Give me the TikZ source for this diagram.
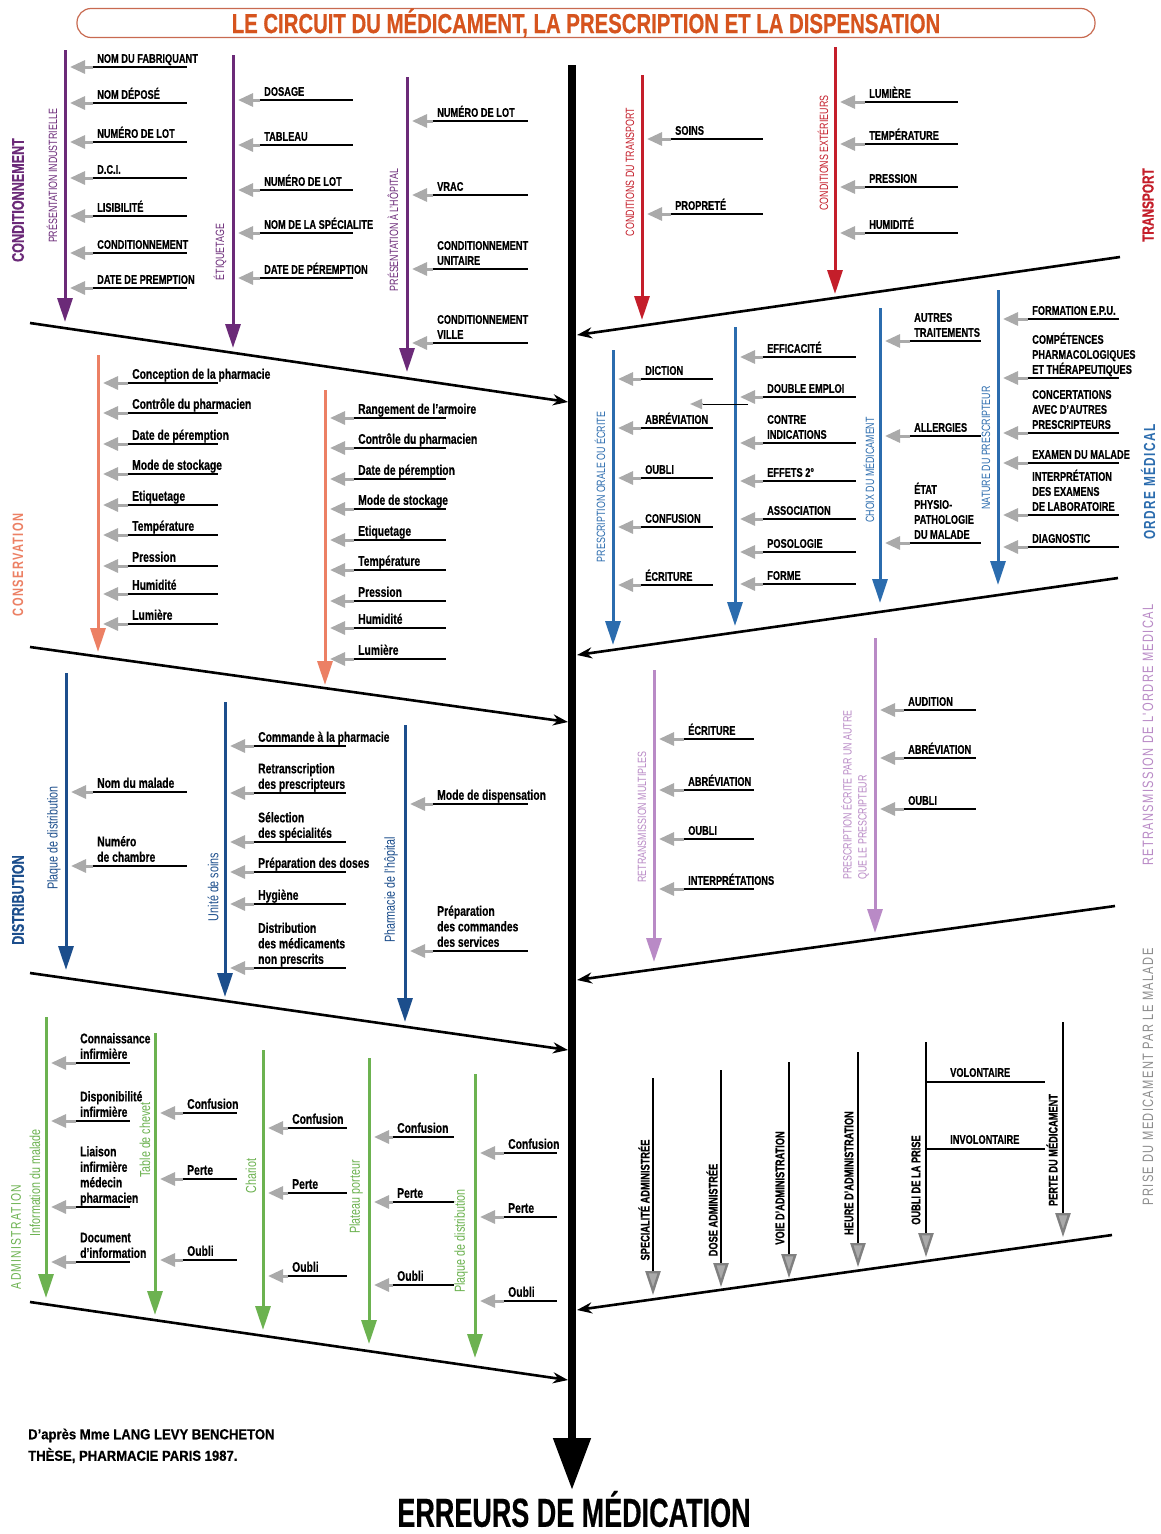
\documentclass[tikz,border=0pt]{standalone}
\usepackage{fontspec}
\setmainfont{Liberation Sans}[FakeStretch=0.74,BoldFeatures={FakeBold=0.5}]
\newfontfamily\spacedfont{Liberation Sans}[FakeStretch=0.74,LetterSpace=9]
\usetikzlibrary{arrows.meta}
\definecolor{cpurple}{RGB}{107,42,120}
\definecolor{csalmon}{RGB}{236,128,100}
\definecolor{cdblue}{RGB}{28,78,140}
\definecolor{cblue}{RGB}{43,108,174}
\definecolor{cgreen}{RGB}{108,178,80}
\definecolor{cred}{RGB}{196,30,42}
\definecolor{clpurple}{RGB}{185,138,198}
\definecolor{cgrayl}{RGB}{140,140,140}
\definecolor{ctitle}{RGB}{214,84,30}
\definecolor{ctitleframe}{RGB}{200,106,80}
\definecolor{ctip}{RGB}{170,170,170}
% item: name, branch x, line start x, line end x, line y, text style, text
\newcommand\fbi[7]{%
  \coordinate (#1s) at (#3,#5);
  \coordinate (#1e) at (#4,#5);
  \coordinate (#1b) at (#2+5,#5);
  \draw[itemline] (#1s) -- (#1e);
  \draw[graytip] (#1s) -- (#1b);
  \node[#6, anchor=south west] (#1) at (#3+4,#5-4) {#7};
}
% coloured branch: name, x, top y, tip y, colour
\newcommand\fbb[5]{%
  \coordinate (#1t) at (#2,#3);
  \coordinate (#1h) at (#2,#4);
  \draw[branchln, #5] (#1t) -- (#1h);
}
% black branch with grey head
\newcommand\fbp[4]{%
  \coordinate (#1t) at (#2,#3);
  \coordinate (#1h) at (#2,#4);
  \draw[prisebr] (#1t) -- (#1h);
}
\begin{document}
\begin{tikzpicture}[x=1pt,y=-1pt,
  itemline/.style={line width=2.2pt, black},
  graytip/.style={line width=3pt, ctip, -{Triangle[length=15pt,width=13pt]}},
  branchln/.style={line width=3pt, -{Triangle[length=24pt,width=15pt]}},
  prisebr/.style={line width=2.4pt, black, -{Triangle[length=24pt,width=15pt,fill=ctip,color=gray]}},
  ribln/.style={line width=2.6pt, black, -{Stealth[length=15pt,width=11pt]}},
  uptext/.style={font=\bfseries\fontsize{12.5}{15}\selectfont, inner sep=0pt, align=left, text depth=0pt},
  lotext/.style={font=\bfseries\fontsize{14}{15.5}\selectfont, inner sep=0pt, align=left, text depth=0pt},
  subup/.style={font=\fontsize{12}{14}\selectfont, rotate=90, inner sep=0pt},
  sublo/.style={font=\fontsize{14.5}{16}\selectfont, rotate=90, inner sep=0pt},
  catbold/.style={font=\bfseries\fontsize{17}{17}\selectfont, rotate=90, inner sep=0pt},
  catreg/.style={font=\spacedfont\fontsize{15}{15}\selectfont, rotate=90, inner sep=0pt},
  prlabel/.style={font=\bfseries\fontsize{12.5}{15}\selectfont, rotate=90, inner sep=0pt},
]
\useasboundingbox (0,0) rectangle (1160,1534);
\fill[white] (0,0) rectangle (1160,1534);

% ---------- title ----------
\node[draw=ctitleframe, line width=1.2pt, rounded corners=14pt, minimum width=1018pt, minimum height=29pt, inner sep=0pt] (title) at (586,23)
  {\scalebox{1.1}[1.1]{\bfseries\fontsize{25}{25}\selectfont\color{ctitle}LE CIRCUIT DU MÉDICAMENT, LA PRESCRIPTION ET LA DISPENSATION}};

% ---------- spine ----------
\coordinate (sptop) at (572,65);
\coordinate (spbot) at (572,1490);
\draw[line width=8pt, -{Triangle[length=52pt,width=36pt]}] (sptop) -- (spbot);
\node[inner sep=0pt] (err) at (574,1509) {\scalebox{0.9}[1]{\bfseries\fontsize{40.5}{40.5}\selectfont ERREURS DE MÉDICATION}};
\node[anchor=north west, inner sep=0pt, align=left] (src) at (28,1424)
  {\scalebox{1.22}[1]{\bfseries\fontsize{14.5}{21.5}\selectfont\begin{tabular}{@{}l@{}}D'après Mme LANG LEVY BENCHETON\\THÈSE, PHARMACIE PARIS 1987.\end{tabular}}};

% ---------- ribs ----------
\coordinate (rl1a) at (30,323);   \coordinate (rl1b) at (568,402);
\coordinate (rl2a) at (30,647);   \coordinate (rl2b) at (568,722);
\coordinate (rl3a) at (30,973);   \coordinate (rl3b) at (568,1050);
\coordinate (rl4a) at (30,1302);  \coordinate (rl4b) at (568,1380);
\coordinate (rr1a) at (1120,257); \coordinate (rr1b) at (577,335);
\coordinate (rr2a) at (1118,578); \coordinate (rr2b) at (577,655);
\coordinate (rr3a) at (1115,906); \coordinate (rr3b) at (577,980);
\coordinate (rr4a) at (1112,1235);\coordinate (rr4b) at (577,1310);
\foreach \r in {rl1,rl2,rl3,rl4,rr1,rr2,rr3,rr4} \draw[ribln] (\r a) -- (\r b);

% ---------- category labels ----------
\node[catbold, text=cpurple] (kCond) at (18,200) {CONDITIONNEMENT};
\node[catreg, text=csalmon, font=\spacedfont\bfseries\fontsize{15}{15}\selectfont] (kCons) at (18,565) {CONSERVATION};
\node[catbold, text=cdblue] (kDist) at (18,900) {DISTRIBUTION};
\node[catreg, text=cgreen, font=\spacedfont\fontsize{14}{14}\selectfont] (kAdm) at (16,1237) {ADMINISTRATION};
\node[catbold, text=cred, font=\bfseries\fontsize{16}{16}\selectfont] (kTr) at (1148,205) {TRANSPORT};
\node[catreg, text=cblue, font=\spacedfont\bfseries\fontsize{16}{16}\selectfont] (kOM) at (1148,482) {ORDRE MÉDICAL};
\node[catreg, text=clpurple] (kRet) at (1148,735) {RETRANSMISSION DE L'ORDRE MEDICAL};
\node[catreg, text=cgrayl] (kPr) at (1148,1077) {PRISE DU MEDICAMENT PAR LE MALADE};

% ========== CONDITIONNEMENT ==========
\fbb{bA}{65}{50}{322}{cpurple}
\node[subup, text=cpurple] (lA) at (52,176) {PRÉSENTATION INDUSTRIELLE};
\fbi{a1}{65}{93}{187}{67}{uptext}{NOM DU FABRIQUANT}
\fbi{a2}{65}{93}{187}{103}{uptext}{NOM DÉPOSÉ}
\fbi{a3}{65}{93}{187}{142}{uptext}{NUMÉRO DE LOT}
\fbi{a4}{65}{93}{187}{178}{uptext}{D.C.I.}
\fbi{a5}{65}{93}{187}{216}{uptext}{LISIBILITÉ}
\fbi{a6}{65}{93}{187}{253}{uptext}{CONDITIONNEMENT}
\fbi{a7}{65}{93}{187}{288}{uptext}{DATE DE PREMPTION}

\fbb{bB}{233}{55}{348}{cpurple}
\node[subup, text=cpurple] (lB) at (220,252) {ÉTIQUETAGE};
\fbi{b1}{233}{260}{353}{100}{uptext}{DOSAGE}
\fbi{b2}{233}{260}{353}{145}{uptext}{TABLEAU}
\fbi{b3}{233}{260}{353}{190}{uptext}{NUMÉRO DE LOT}
\fbi{b4}{233}{260}{353}{233}{uptext}{NOM DE LA SPÉCIALITE}
\fbi{b5}{233}{260}{353}{278}{uptext}{DATE DE PÉREMPTION}

\fbb{bC}{407}{77}{372}{cpurple}
\node[subup, text=cpurple] (lC) at (393,230) {PRÉSENTATION À L'HÔPITAL};
\fbi{c1}{407}{433}{528}{121}{uptext}{NUMÉRO DE LOT}
\fbi{c2}{407}{433}{528}{195}{uptext}{VRAC}
\fbi{c3}{407}{433}{528}{269}{uptext}{CONDITIONNEMENT\\UNITAIRE}
\fbi{c4}{407}{433}{528}{343}{uptext}{CONDITIONNEMENT\\VILLE}

% ========== CONSERVATION ==========
\fbb{bD}{98}{355}{652}{csalmon}
\fbi{d1}{98}{128}{218}{383}{lotext}{Conception de la pharmacie}
\fbi{d2}{98}{128}{218}{413}{lotext}{Contrôle du pharmacien}
\fbi{d3}{98}{128}{218}{444}{lotext}{Date de péremption}
\fbi{d4}{98}{128}{218}{474}{lotext}{Mode de stockage}
\fbi{d5}{98}{128}{218}{505}{lotext}{Etiquetage}
\fbi{d6}{98}{128}{218}{535}{lotext}{Température}
\fbi{d7}{98}{128}{218}{566}{lotext}{Pression}
\fbi{d8}{98}{128}{218}{594}{lotext}{Humidité}
\fbi{d9}{98}{128}{218}{624}{lotext}{Lumière}

\fbb{bE}{325}{390}{685}{csalmon}
\fbi{e1}{325}{354}{446}{418}{lotext}{Rangement de l'armoire}
\fbi{e2}{325}{354}{446}{448}{lotext}{Contrôle du pharmacien}
\fbi{e3}{325}{354}{446}{479}{lotext}{Date de péremption}
\fbi{e4}{325}{354}{446}{509}{lotext}{Mode de stockage}
\fbi{e5}{325}{354}{446}{540}{lotext}{Etiquetage}
\fbi{e6}{325}{354}{446}{570}{lotext}{Température}
\fbi{e7}{325}{354}{446}{601}{lotext}{Pression}
\fbi{e8}{325}{354}{446}{628}{lotext}{Humidité}
\fbi{e9}{325}{354}{446}{659}{lotext}{Lumière}

% ========== DISTRIBUTION ==========
\fbb{bF}{66}{673}{970}{cdblue}
\node[sublo, text=cdblue] (lF) at (54,838) {Plaque de distribution};
\fbi{f1}{66}{93}{187}{792}{lotext}{Nom du malade}
\fbi{f2}{66}{93}{187}{866}{lotext}{Numéro\\de chambre}

\fbb{bG}{225}{702}{997}{cdblue}
\node[sublo, text=cdblue] (lG) at (213,887) {Unité de soins};
\fbi{g1}{225}{254}{346}{746}{lotext}{Commande à la pharmacie}
\fbi{g2}{225}{254}{346}{793}{lotext}{Retranscription\\des prescripteurs}
\fbi{g3}{225}{254}{346}{842}{lotext}{Sélection\\des spécialités}
\fbi{g4}{225}{254}{346}{872}{lotext}{Préparation des doses}
\fbi{g5}{225}{254}{346}{904}{lotext}{Hygiène}
\fbi{g6}{225}{254}{346}{968}{lotext}{Distribution\\des médicaments\\non prescrits}

\fbb{bH}{405}{725}{1022}{cdblue}
\node[sublo, text=cdblue] (lH) at (391,890) {Pharmacie de l'hôpital};
\fbi{h1}{405}{433}{528}{804}{lotext}{Mode de dispensation}
\fbi{h2}{405}{433}{528}{951}{lotext}{Préparation\\des commandes\\des services}

% ========== ADMINISTRATION ==========
\fbb{bI}{46}{1017}{1298}{cgreen}
\node[sublo, text=cgreen] (lI) at (35,1183) {Information du malade};
\fbi{i1}{46}{76}{130}{1063}{lotext}{Connaissance\\infirmière}
\fbi{i2}{46}{76}{130}{1121}{lotext}{Disponibilité\\infirmière}
\fbi{i3}{46}{76}{130}{1207}{lotext}{Liaison\\infirmière\\médecin\\pharmacien}
\fbi{i4}{46}{76}{130}{1262}{lotext}{Document\\d'information}

\fbb{bJ}{155}{1033}{1315}{cgreen}
\node[sublo, text=cgreen] (lJ) at (145,1140) {Table de chevet};
\fbi{j1}{155}{183}{237}{1113}{lotext}{Confusion}
\fbi{j2}{155}{183}{237}{1179}{lotext}{Perte}
\fbi{j3}{155}{183}{237}{1260}{lotext}{Oubli}

\fbb{bK}{263}{1050}{1330}{cgreen}
\node[sublo, text=cgreen] (lK) at (251,1176) {Chariot};
\fbi{k1}{263}{288}{347}{1128}{lotext}{Confusion}
\fbi{k2}{263}{288}{347}{1193}{lotext}{Perte}
\fbi{k3}{263}{288}{347}{1276}{lotext}{Oubli}

\fbb{bL}{369}{1058}{1344}{cgreen}
\node[sublo, text=cgreen] (lL) at (356,1197) {Plateau porteur};
\fbi{l1}{369}{393}{454}{1137}{lotext}{Confusion}
\fbi{l2}{369}{393}{454}{1202}{lotext}{Perte}
\fbi{l3}{369}{393}{454}{1285}{lotext}{Oubli}

\fbb{bM}{475}{1074}{1358}{cgreen}
\node[sublo, text=cgreen] (lM) at (461,1241) {Plaque de distribution};
\fbi{m1}{475}{504}{557}{1153}{lotext}{Confusion}
\fbi{m2}{475}{504}{557}{1217}{lotext}{Perte}
\fbi{m3}{475}{504}{557}{1301}{lotext}{Oubli}

% ========== TRANSPORT ==========
\fbb{bN}{642}{75}{320}{cred}
\node[subup, text=cred] (lN) at (630,172) {CONDITIONS DU TRANSPORT};
\fbi{n1}{642}{671}{763}{139}{uptext}{SOINS}
\fbi{n2}{642}{671}{763}{214}{uptext}{PROPRETÉ}

\fbb{bO}{835}{47}{294}{cred}
\node[subup, text=cred] (lO) at (823,153) {CONDITIONS EXTÉRIEURS};
\fbi{o1}{835}{865}{958}{102}{uptext}{LUMIÈRE}
\fbi{o2}{835}{865}{958}{144}{uptext}{TEMPÉRATURE}
\fbi{o3}{835}{865}{958}{187}{uptext}{PRESSION}
\fbi{o4}{835}{865}{958}{233}{uptext}{HUMIDITÉ}

% ========== ORDRE MEDICAL ==========
\fbb{bP}{613}{350}{645}{cblue}
\node[subup, text=cblue] (lP) at (600,487) {PRESCRIPTION ORALE OU ÉCRITE};
\fbi{p1}{613}{641}{713}{379}{uptext}{DICTION}
\fbi{p2}{613}{641}{713}{428}{uptext}{ABRÉVIATION}
\fbi{p3}{613}{641}{713}{478}{uptext}{OUBLI}
\fbi{p4}{613}{641}{713}{527}{uptext}{CONFUSION}
\fbi{p5}{613}{641}{713}{585}{uptext}{ÉCRITURE}

\fbb{bQ}{735}{327}{626}{cblue}
\fbi{q1}{735}{763}{856}{357}{uptext}{EFFICACITÉ}
\fbi{q2}{735}{763}{856}{397}{uptext}{DOUBLE EMPLOI}
\fbi{q3}{735}{763}{856}{443}{uptext}{CONTRE\\INDICATIONS}
\fbi{q4}{735}{763}{856}{481}{uptext}{EFFETS 2°}
\fbi{q5}{735}{763}{856}{519}{uptext}{ASSOCIATION}
\fbi{q6}{735}{763}{856}{552}{uptext}{POSOLOGIE}
\fbi{q7}{735}{763}{856}{584}{uptext}{FORME}
\coordinate (xq1) at (748,404); \coordinate (xq2) at (703,404); \coordinate (xq3) at (690,404);
\draw[line width=1pt] (xq1) -- (xq2);
\draw[line width=2pt, ctip, -{Triangle[length=12pt,width=10pt]}] (xq2) -- (xq3);

\fbb{bR}{880}{308}{603}{cblue}
\node[subup, text=cblue] (lR) at (869,470) {CHOIX DU MÉDICAMENT};
\fbi{r1}{880}{910}{981}{341}{uptext}{AUTRES\\TRAITEMENTS}
\fbi{r2}{880}{910}{981}{436}{uptext}{ALLERGIES}
\fbi{r3}{880}{910}{981}{543}{uptext}{ÉTAT\\PHYSIO-\\PATHOLOGIE\\DU MALADE}

\fbb{bS}{998}{290}{585}{cblue}
\node[subup, text=cblue] (lS) at (986,448) {NATURE DU PRESCRIPTEUR};
\fbi{s1}{998}{1028}{1119}{319}{uptext}{FORMATION E.P.U.}
\fbi{s2}{998}{1028}{1119}{378}{uptext}{COMPÉTENCES\\PHARMACOLOGIQUES\\ET THÉRAPEUTIQUES}
\fbi{s3}{998}{1028}{1119}{433}{uptext}{CONCERTATIONS\\AVEC D'AUTRES\\PRESCRIPTEURS}
\fbi{s4}{998}{1028}{1119}{463}{uptext}{EXAMEN DU MALADE}
\fbi{s5}{998}{1028}{1119}{515}{uptext}{INTERPRÉTATION\\DES EXAMENS\\DE LABORATOIRE}
\fbi{s6}{998}{1028}{1119}{547}{uptext}{DIAGNOSTIC}

% ========== RETRANSMISSION ==========
\fbb{bT}{654}{670}{962}{clpurple}
\node[subup, text=clpurple] (lT) at (642,817) {RETRANSMISSION MULTIPLES};
\fbi{t1}{654}{684}{754}{739}{uptext}{ÉCRITURE}
\fbi{t2}{654}{684}{754}{790}{uptext}{ABRÉVIATION}
\fbi{t3}{654}{684}{754}{839}{uptext}{OUBLI}
\fbi{t4}{654}{684}{754}{889}{uptext}{INTERPRÉTATIONS}

\fbb{bU}{875}{638}{933}{clpurple}
\node[subup, text=clpurple, align=left, anchor=west, font=\fontsize{12}{15}\selectfont] (lU) at (855,880) {PRESCRIPTION ÉCRITE PAR UN AUTRE\\QUE LE PRESCRIPTEUR};
\fbi{u1}{875}{904}{976}{710}{uptext}{AUDITION}
\fbi{u2}{875}{904}{976}{758}{uptext}{ABRÉVIATION}
\fbi{u3}{875}{904}{976}{809}{uptext}{OUBLI}

% ========== PRISE DU MEDICAMENT ==========
\fbp{v1}{653}{1078}{1295}
\node[prlabel] (lv1) at (644,1200) {SPECIALITÉ ADMINISTRÉE};
\fbp{v2}{721}{1070}{1287}
\node[prlabel] (lv2) at (712,1210) {DOSE ADMINISTRÉE};
\fbp{v3}{789}{1062}{1278}
\node[prlabel] (lv3) at (780,1188) {VOIE D'ADMINISTRATION};
\fbp{v4}{858}{1052}{1267}
\node[prlabel] (lv4) at (849,1173) {HEURE D'ADMINISTRATION};
\fbp{v5}{926}{1042}{1257}
\node[prlabel] (lv5) at (916,1180) {OUBLI DE LA PRISE};
\fbp{v6}{1063}{1022}{1237}
\node[prlabel] (lv6) at (1052,1150) {PERTE DU MÉDICAMENT};
\coordinate (vol1) at (926,1082); \coordinate (vol2) at (1045,1082);
\coordinate (inv1) at (926,1149); \coordinate (inv2) at (1045,1149);
\draw[itemline] (vol1) -- (vol2);
\draw[itemline] (inv1) -- (inv2);
\node[uptext, anchor=south west] (tvol) at (950,1077) {VOLONTAIRE};
\node[uptext, anchor=south west] (tinv) at (950,1144) {INVOLONTAIRE};
\end{tikzpicture}
\end{document}
